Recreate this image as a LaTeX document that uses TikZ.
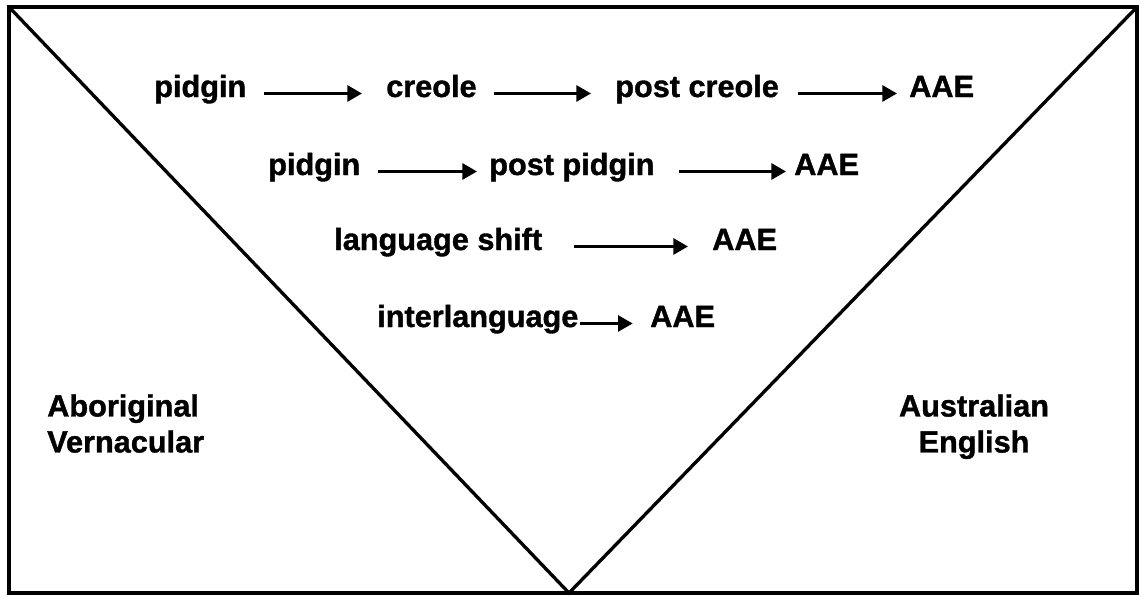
\documentclass[tikz,border=0pt]{standalone}
\usepackage{fontspec}
\setmainfont{Liberation Sans}[BoldFeatures={FakeBold=1.2}]
\usetikzlibrary{arrows.meta}

\tikzset{
    word/.style={inner sep=0pt, font=\fontsize{23}{27}\selectfont\bfseries},
    flow/.style={-{Triangle[length=11pt,width=12pt]}, line width=2.2pt},
}

\begin{document}
\begin{tikzpicture}[x=0.75pt, y=-0.75pt]

    \useasboundingbox (0,0) rectangle (1142,596);

    % frame and the V
    \draw[line width=2.8pt] (9,7) rectangle (1137,593);
    \draw[line width=2.5pt, line join=miter] (9,7) -- (569,593) -- (1137,7);

    % first route
    \node[word, anchor=base west] (pidginA) at (154,97) {pidgin};
    \node[word, anchor=base west] (creole) at (386,97) {creole};
    \node[word, anchor=base west] (postcreole) at (615,97) {post creole};
    \node[word, anchor=base west] (aaeA) at (909,97) {AAE};
    \draw[flow, shorten <=13pt, shorten >=18pt] (pidginA.mid east) -- (creole.mid west);
    \draw[flow, shorten <=13pt, shorten >=18pt] (creole.mid east) -- (postcreole.mid west);
    \draw[flow, shorten <=14pt, shorten >=9pt] (postcreole.mid east) -- (aaeA.mid west);

    % second route
    \node[word, anchor=base west] (pidginB) at (268,175) {pidgin};
    \node[word, anchor=base west] (postpidgin) at (489,175) {post pidgin};
    \node[word, anchor=base west] (aaeB) at (794,175) {AAE};
    \draw[flow, shorten <=13pt, shorten >=9pt] (pidginB.mid east) -- (postpidgin.mid west);
    \draw[flow, shorten <=18pt, shorten >=6pt] (postpidgin.mid east) -- (aaeB.mid west);

    % third route
    \node[word, anchor=base west] (shift) at (334,250) {language shift};
    \node[word, anchor=base west] (aaeC) at (712,250) {AAE};
    \draw[flow, shorten <=24pt, shorten >=18pt] (shift.mid east) -- (aaeC.mid west);

    % fourth route
    \node[word, anchor=base west] (inter) at (377,327) {interlanguage};
    \node[word, anchor=base west] (aaeD) at (650,327) {AAE};
    \draw[flow, shorten <=1pt, shorten >=13pt] (inter.mid east) -- (aaeD.mid west);

    % the two ends
    \node[word, anchor=north west, align=left] (vernacular) at (47,394) {Aboriginal\\Vernacular};
    \node[word, anchor=north, align=center] (english) at (974,394) {Australian\\English};

\end{tikzpicture}
\end{document}
